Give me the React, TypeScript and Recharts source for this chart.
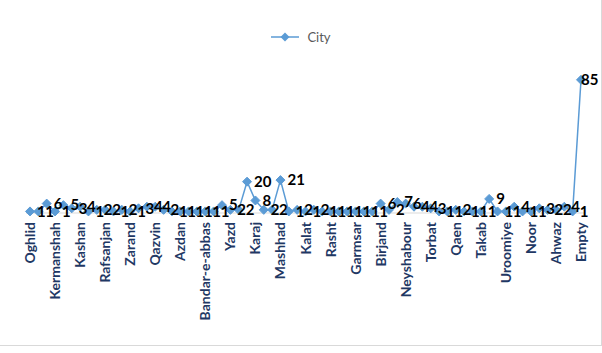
import { LabelList, Legend, Line, LineChart, XAxis, YAxis } from "recharts";

// city names along the axis; only every third slot carries a visible name
const cities = [
  "Oghlid", "", "", "Kermanshah", "", "", "Kashan", "", "", "Rafsanjan", "", "",
  "Zarand", "", "", "Qazvin", "", "", "Azdan", "", "", "Bandar-e-abbas", "", "",
  "Yazd", "", "", "Karaj", "", "", "Mashhad", "", "", "Kalat", "", "",
  "Rasht", "", "", "Garmsar", "", "", "Birjand", "", "", "Neyshabour", "", "",
  "Torbat", "", "", "Qaen", "", "", "Takab", "", "", "Uroomiye", "", "",
  "Noor", "", "", "Ahwaz", "", "", "Empty",
];

const counts = [
  1, 1, 6, 1, 5, 3, 4, 1, 2, 2, 1, 2, 1, 3, 4, 4, 2, 1, 1, 1, 1, 1, 1, 5,
  2, 2, 20, 8, 2, 2, 21, 1, 2, 1, 2, 1, 1, 1, 1, 1, 1, 1, 6, 2, 7, 6, 4, 4,
  3, 1, 1, 2, 1, 1, 1, 9, 1, 1, 4, 1, 1, 3, 2, 2, 4, 1, 85,
];

const chartData = cities.map((name, i) => ({ key: i, name, City: counts[i] }));

const BLUE = "#5B9BD5";
const W = 601;

const Diamond = (props: any) => {
  const { cx, cy } = props;
  if (cx == null || cy == null) return null;
  const r = 4.5;
  return (
    <path
      d={`M${cx},${cy - r}L${cx + r},${cy}L${cx},${cy + r}L${cx - r},${cy}Z`}
      fill={BLUE}
      stroke={BLUE}
    />
  );
};

// value label to the right of the point, pulled back inside the frame near the edge
const ValueLabel = (props: any) => {
  const { x, y, value } = props;
  const w = String(value).length * 9;
  const tx = Math.min(x + 7, W - 2 - w);
  return (
    <text
      x={tx}
      y={y}
      dy="0.35em"
      fill="#000"
      fontSize={15}
      fontWeight={700}
      fontFamily="Lato, sans-serif"
    >
      {value}
    </text>
  );
};

const CityTick = (props: any) => {
  const { x, y, payload } = props;
  const label = cities[payload.value] ?? "";
  return (
    <text
      transform={`translate(${x + 5},${y + 1}) rotate(-90)`}
      textAnchor="end"
      fill="#1F3864"
      fontSize={14}
      fontWeight={700}
      fontFamily="Lato, 'Open Sans', sans-serif"
    >
      {label}
    </text>
  );
};

const LegendBox = () => (
  <div
    style={{
      display: "flex",
      justifyContent: "center",
      alignItems: "center",
      fontFamily: "Lato, sans-serif",
      fontSize: 13,
      color: "#595959",
    }}
  >
    <svg width={30} height={10} style={{ marginRight: 7 }}>
      <line x1={1} y1={5} x2={29} y2={5} stroke={BLUE} strokeWidth={1.5} />
      <path d="M15,0.5L19.5,5L15,9.5L10.5,5Z" fill={BLUE} />
    </svg>
    City
  </div>
);

export default function App() {
  return (
    <div
      style={{
        position: "absolute",
        left: 0,
        top: 0,
        width: W,
        height: 345,
        background: "#fff",
        borderRight: "1px solid #d9d9d9",
        borderBottom: "1px solid #d9d9d9",
      }}
    >
      <LineChart
        width={W}
        height={353}
        data={chartData}
        margin={{ top: 56, right: 16, bottom: 10, left: 26 }}
      >
        <XAxis
          dataKey="key"
          type="category"
          interval={2}
          height={130}
          padding={{ left: 4, right: 4 }}
          tick={<CityTick />}
          tickLine={false}
          axisLine={{ stroke: "#d9d9d9" }}
        />
        <YAxis hide domain={[0, 90]} />
        <Legend
          verticalAlign="top"
          content={<LegendBox />}
          wrapperStyle={{ top: 29, left: 0, width: W }}
        />
        <Line
          dataKey="City"
          stroke={BLUE}
          strokeWidth={1.5}
          dot={<Diamond />}
          activeDot={false}
          isAnimationActive={false}
        >
          <LabelList dataKey="City" content={<ValueLabel />} />
        </Line>
      </LineChart>
    </div>
  );
}
